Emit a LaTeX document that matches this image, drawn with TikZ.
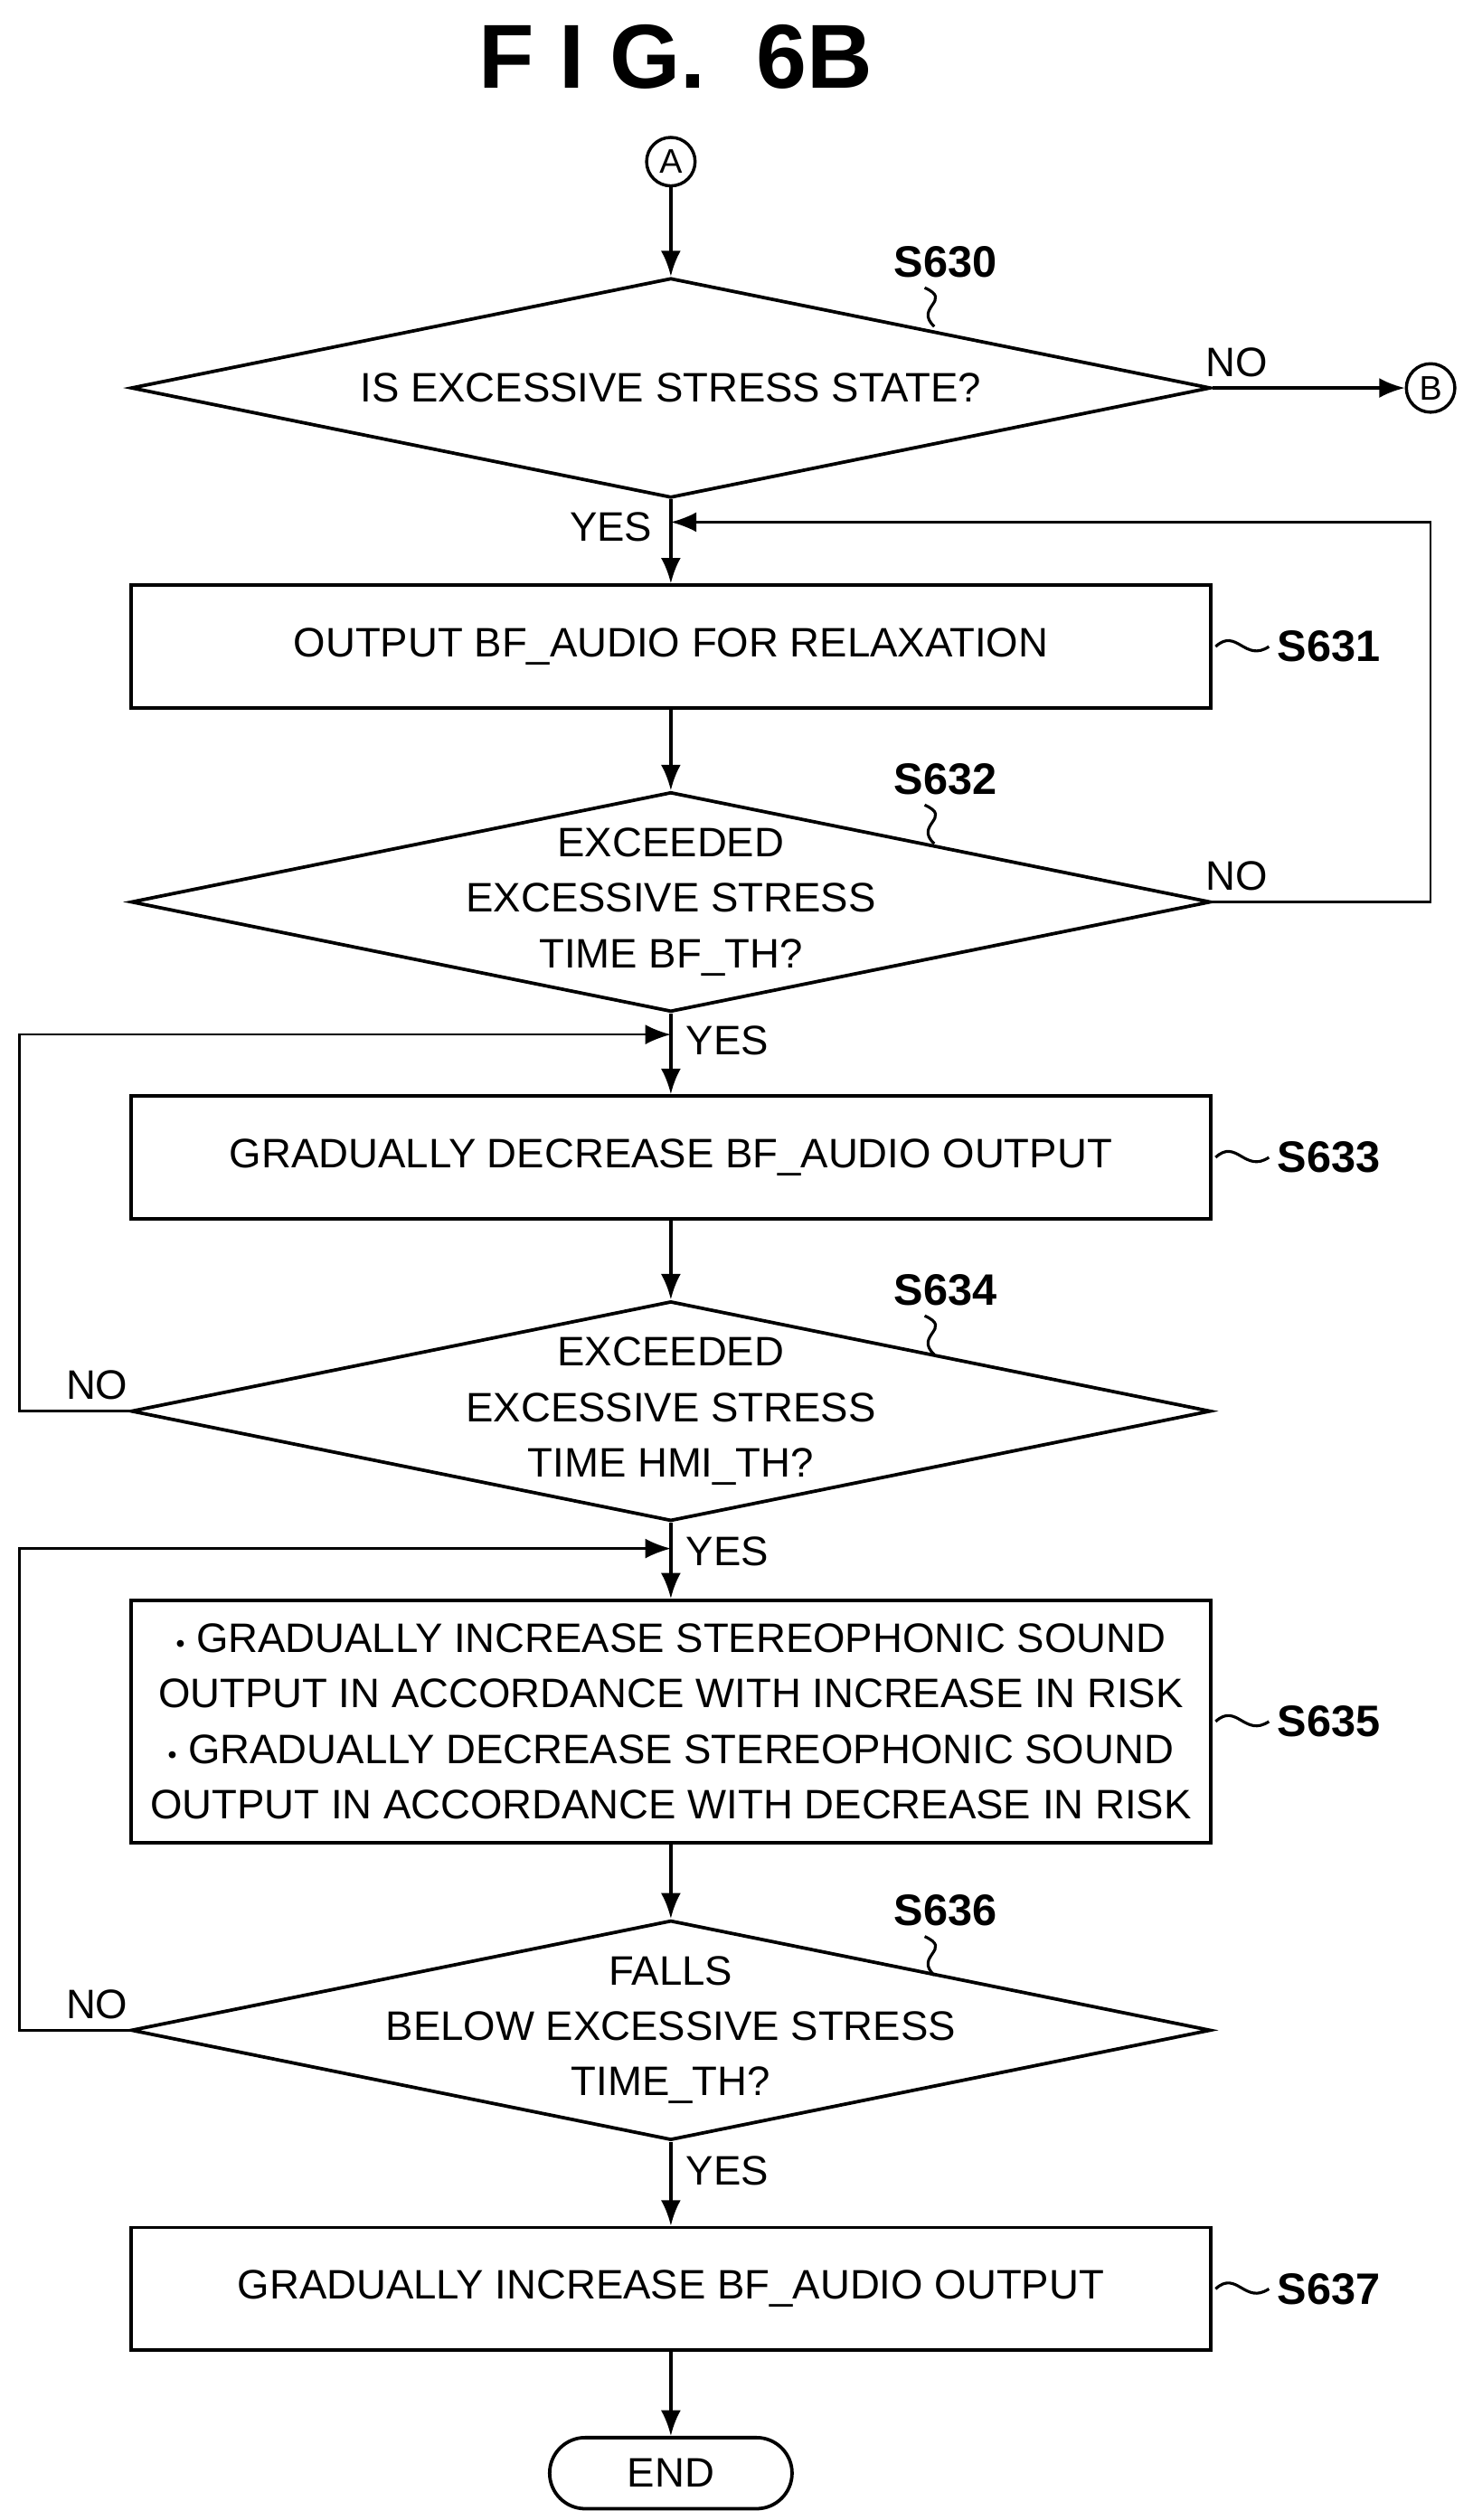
\documentclass[tikz,border=0pt]{standalone}
\usepackage{fontspec}
\setmainfont{Liberation Sans}
\usetikzlibrary{shapes.geometric,arrows.meta}
\tikzset{
  txt/.style={font=\fontsize{14.5}{19.5}\selectfont, align=center},
  lbl/.style={font=\fontsize{15.5}{20}\selectfont\bfseries},
  procbox/.style={txt, draw, line width=1.2pt, minimum width=13.36cm, minimum height=1.52cm, inner sep=0},
  decbox/.style={draw, line width=1.2pt, diamond, aspect=4.9, minimum width=13.36cm, minimum height=2.72cm, inner sep=0},
  conn/.style={font=\fontsize{12}{12}\selectfont, draw, circle, line width=1.1pt, minimum size=0.6cm, inner sep=0},
  flow/.style={line width=1.1pt, -{Latex[length=9pt,width=7pt]}},
  link/.style={line width=0.8pt},
}
\begin{document}
\begin{tikzpicture}[x=0.02cm, y=-0.02cm]
        \useasboundingbox (0,0) rectangle (911,1559);
        \node[font=\fontsize{32}{32}\selectfont\bfseries] (T) at (418,35) {F I G.\ \ 6B};
        \node[conn] (A) at (415,100) {A};
        \node[decbox] (D0) at (415,240) {};
        \node[txt] (D0t) at (415,240) {IS EXCESSIVE STRESS STATE?};
        \node[conn] (B) at (885,240) {B};
        \node[procbox] (P1) at (415,400) {OUTPUT BF\_AUDIO FOR RELAXATION};
        \node[decbox] (D2) at (415,558) {};
        \node[txt] (D2t) at (415,558) {EXCEEDED\\EXCESSIVE STRESS\\TIME BF\_TH?};
        \node[procbox] (P3) at (415,716) {GRADUALLY DECREASE BF\_AUDIO OUTPUT};
        \node[decbox] (D4) at (415,873) {};
        \node[txt] (D4t) at (415,873) {EXCEEDED\\EXCESSIVE STRESS\\TIME HMI\_TH?};
        \node[procbox, minimum height=3cm] (P5) at (415,1065) {{\small\textbullet} GRADUALLY INCREASE STEREOPHONIC SOUND\\OUTPUT IN ACCORDANCE WITH INCREASE IN RISK\\{\small\textbullet} GRADUALLY DECREASE STEREOPHONIC SOUND\\OUTPUT IN ACCORDANCE WITH DECREASE IN RISK};
        \node[decbox] (D6) at (415,1256) {};
        \node[txt] (D6t) at (415,1256) {FALLS\\BELOW EXCESSIVE STRESS\\TIME\_TH?};
        \node[procbox] (P7) at (415,1416) {GRADUALLY INCREASE BF\_AUDIO OUTPUT};
        \node[txt, draw, line width=1.2pt, rounded corners=0.44cm, minimum width=3cm, minimum height=0.88cm] (E) at (415,1530) {END};

        % step labels
        \node[lbl] (L0) at (585,162) {S630};
        \node[lbl] (L2) at (585,482) {S632};
        \node[lbl] (L4) at (585,798) {S634};
        \node[lbl] (L6) at (585,1182) {S636};
        \node[lbl] (L1) at (822,400) {S631};
        \node[lbl] (L3) at (822,716) {S633};
        \node[lbl] (L5) at (822,1065) {S635};
        \node[lbl] (L7) at (822,1416) {S637};
        \foreach \y in {178,498,814,1198}
          \draw[line width=1pt] (572,\y) .. controls (590,\y+8) and (565,\y+12) .. (578,\y+24);
        \foreach \y in {400,716,1065,1416}
          \draw[line width=1pt] (752,\y) .. controls (765,\y-12) and (770,\y+10) .. (785,\y);

        % main flow
        \draw[flow] (A) -- (D0.north);
        \draw[flow] (D0.south) -- (P1.north);
        \draw[flow] (P1) -- (D2.north);
        \draw[flow] (D2.south) -- (P3.north);
        \draw[flow] (P3) -- (D4.north);
        \draw[flow] (D4.south) -- (P5.north);
        \draw[flow] (P5) -- (D6.north);
        \draw[flow] (D6.south) -- (P7.north);
        \draw[flow] (P7) -- (E);
        \draw[flow] (D0.east) -- (B);

        % loops
        \coordinate (J1) at (415,323);
        \coordinate (J3) at (415,640);
        \coordinate (J5) at (415,958);
        \draw[flow, link] (D2.east) -- (885,558) -- (885,323) -- (J1);
        \draw[flow, link] (D4.west) -- (12,873) -- (12,640) -- (J3);
        \draw[flow, link] (D6.west) -- (12,1256) -- (12,958) -- (J5);

        % branch texts
        \node[txt] (N0) at (765,224) {NO};
        \node[txt] (Y0) at (378,326) {YES};
        \node[txt] (N2) at (765,542) {NO};
        \node[txt] (Y2) at (450,644) {YES};
        \node[txt] (N4) at (60,857) {NO};
        \node[txt] (Y4) at (450,960) {YES};
        \node[txt] (N6) at (60,1240) {NO};
        \node[txt] (Y6) at (450,1343) {YES};
\end{tikzpicture}
\end{document}
